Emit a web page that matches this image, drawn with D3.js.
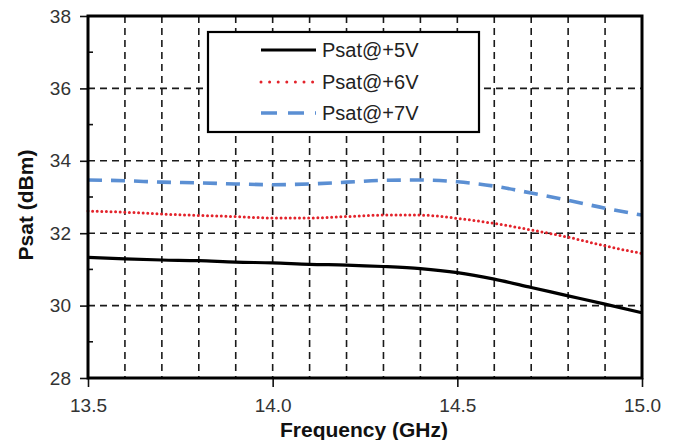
<!DOCTYPE html>
<html>
<head>
<meta charset="utf-8">
<script src="https://cdn.jsdelivr.net/npm/d3@7/dist/d3.min.js"></script>
<style>
  html, body { margin: 0; padding: 0; background: #fff; }
  svg { display: block; font-family: "Liberation Sans", Arial, sans-serif; }
</style>
</head>
<body>
<svg id="chart" width="676" height="440"></svg>
<script>
// Saturated output power vs frequency for three supply voltages
const freqGHz = [13.5, 13.6, 13.7, 13.8, 13.9, 14.0, 14.1, 14.2, 14.3, 14.4, 14.5, 14.6, 14.7, 14.8, 14.9, 15.0];
const psat5V = [31.33, 31.29, 31.26, 31.24, 31.20, 31.18, 31.14, 31.12, 31.08, 31.02, 30.91, 30.73, 30.50, 30.27, 30.04, 29.80];
const psat6V = [32.61, 32.58, 32.53, 32.49, 32.46, 32.42, 32.42, 32.46, 32.50, 32.50, 32.41, 32.27, 32.09, 31.89, 31.65, 31.44];
const psat7V = [33.47, 33.45, 33.41, 33.39, 33.36, 33.34, 33.36, 33.41, 33.46, 33.47, 33.42, 33.30, 33.11, 32.91, 32.69, 32.50];
const seriesNames = ["Psat@+5V", "Psat@+6V", "Psat@+7V"];
const xTicks = [13.5, 14.0, 14.5, 15.0];
const yTicks = [28, 30, 32, 34, 36, 38];
const yMinorTicks = [29, 31, 33, 35, 37];
const xGrid = [13.6, 13.7, 13.8, 13.9, 14.0, 14.1, 14.2, 14.3, 14.4, 14.5, 14.6, 14.7, 14.8, 14.9];
const yGrid = [30, 32, 34, 36];

const margin = { left: 88, right: 34, top: 16, bottom: 62 };
const W = 676, H = 440;
const iw = W - margin.left - margin.right;
const ih = H - margin.top - margin.bottom;

const svg = d3.select("#chart");
const g = svg.append("g").attr("transform", `translate(${margin.left},${margin.top})`);

const x = d3.scaleLinear().domain([13.5, 15.0]).range([0, iw]);
const y = d3.scaleLinear().domain([28, 38]).range([ih, 0]);

// dashed grid
const gridStyle = sel => sel.attr("stroke", "#1a1a1a").attr("stroke-width", 1.6).attr("stroke-dasharray", "7,5");
g.append("g").selectAll("line").data(xGrid).join("line")
  .attr("x1", d => x(d)).attr("x2", d => x(d)).attr("y1", 0).attr("y2", ih)
  .call(gridStyle);
g.append("g").selectAll("line").data(yGrid).join("line")
  .attr("x1", 0).attr("x2", iw).attr("y1", d => y(d)).attr("y2", d => y(d))
  .call(gridStyle);

// series
const styles = [
  { data: psat5V, color: "#000000", width: 3.2, dash: null, cap: "butt", legendDash: null },
  { data: psat6V, color: "#e3232b", width: 3, dash: "0,4.6", cap: "round", legendDash: "0,8.6" },
  { data: psat7V, color: "#5b8fd3", width: 3.6, dash: "14,9", cap: "butt", legendDash: "16,11" }
];
const line = d3.line().x((d, i) => x(freqGHz[i])).y(d => y(d)).curve(d3.curveMonotoneX);
styles.forEach(s => {
  g.append("path").datum(s.data)
    .attr("d", line)
    .attr("fill", "none")
    .attr("stroke", s.color)
    .attr("stroke-width", s.width)
    .attr("stroke-linecap", s.cap)
    .attr("stroke-dasharray", s.dash);
});

// axes
const tickColor = "#333";
const xAxis = g.append("g").attr("transform", `translate(0,${ih})`)
  .call(d3.axisBottom(x).tickValues(xTicks).tickFormat(d3.format(".1f")).tickSize(9).tickPadding(7));
const yAxis = g.append("g")
  .call(d3.axisLeft(y).tickValues(yTicks).tickFormat(d3.format("d")).tickSize(8).tickPadding(9));
[xAxis, yAxis].forEach(a => {
  a.select(".domain").remove();
  a.selectAll(".tick line").attr("stroke", "#111").attr("stroke-width", 1.6);
  a.selectAll(".tick text").attr("fill", tickColor).style("font-size", "19px").style("font-family", "'Liberation Sans', Arial, sans-serif");
});
xAxis.selectAll(".tick text").attr("dy", "0.95em");
// minor inward ticks on the left axis
g.append("g").selectAll("line").data(yMinorTicks).join("line")
  .attr("x1", 0).attr("x2", 5).attr("y1", d => y(d)).attr("y2", d => y(d))
  .attr("stroke", "#111").attr("stroke-width", 1.6);

// frame
g.append("rect").attr("x", 0).attr("y", 0).attr("width", iw).attr("height", ih)
  .attr("fill", "none").attr("stroke", "#000").attr("stroke-width", 3);

// legend
const lg = svg.append("g").attr("transform", "translate(208,32)");
lg.append("rect").attr("width", 271).attr("height", 100)
  .attr("fill", "#fff").attr("stroke", "#000").attr("stroke-width", 2.2);
const rowY = [18, 50, 81];
styles.forEach((s, i) => {
  lg.append("line")
    .attr("x1", 53).attr("x2", 108).attr("y1", rowY[i]).attr("y2", rowY[i])
    .attr("stroke", s.color).attr("stroke-width", s.width)
    .attr("stroke-linecap", s.cap)
    .attr("stroke-dasharray", s.legendDash);
  lg.append("text")
    .attr("x", 114).attr("y", rowY[i]).attr("dy", "0.35em")
    .attr("fill", "#222").style("font-size", "20px")
    .text(seriesNames[i]);
});

// axis titles
svg.append("text")
  .attr("x", 364).attr("y", 437)
  .attr("text-anchor", "middle").style("font-size", "21px").style("font-weight", "bold")
  .attr("fill", "#111")
  .text("Frequency (GHz)");
svg.append("text")
  .attr("transform", "translate(33,205) rotate(-90)")
  .attr("text-anchor", "middle").style("font-size", "21px").style("font-weight", "bold")
  .attr("fill", "#111")
  .text("Psat (dBm)");
</script>
</body>
</html>
